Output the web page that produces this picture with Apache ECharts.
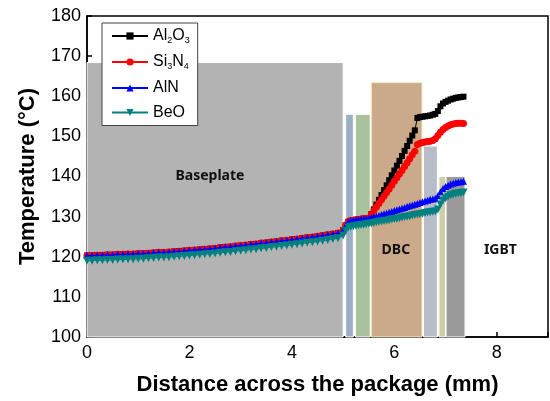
<!DOCTYPE html>
<html>
<head>
<meta charset="utf-8">
<script src="https://cdn.jsdelivr.net/npm/echarts@6/dist/echarts.min.js"></script>
<style>html,body{margin:0;padding:0;background:#fff}#c{width:550px;height:401px}</style>
</head>
<body>
<div id="c"></div>
<script>
// ---- data ----
var seriesNames = ['Al2O3', 'Si3N4', 'AlN', 'BeO'];
var xVals = [0,0.1,0.2,0.3,0.4,0.5,0.6,0.7,0.8,0.9,1.0,1.1,1.2,1.3,1.4,1.5,1.6,1.7,1.8,1.9,
  2.0,2.1,2.2,2.3,2.4,2.5,2.6,2.7,2.8,2.9,3.0,3.1,3.2,3.3,3.4,3.5,3.6,3.7,3.8,3.9,
  4.0,4.1,4.2,4.3,4.4,4.5,4.6,4.7,4.8,4.9,
  5.0,5.05,5.1,5.15,5.2,5.25,5.3,5.35,5.4,5.45,5.5,5.55,5.6,5.65,5.7,5.75,5.8,5.85,5.9,5.95,
  6.0,6.05,6.1,6.15,6.2,6.25,6.3,6.35,6.4,6.45,6.5,6.55,6.6,6.65,6.7,6.75,6.8,6.85,6.9,6.95,
  7.0,7.05,7.1,7.15,7.2,7.25,7.3,7.35];
var basePart = [120.3,120.3,120.4,120.4,120.5,120.5,120.6,120.6,120.7,120.7,120.8,120.8,120.9,121.0,121.1,121.1,121.2,121.3,121.4,121.5,
  121.6,121.7,121.8,121.9,122.0,122.1,122.3,122.4,122.5,122.7,122.8,122.9,123.1,123.2,123.4,123.5,123.7,123.8,124.0,124.1,
  124.3,124.4,124.6,124.8,124.9,125.1,125.3,125.5,125.7,125.9];
var al2o3 = basePart.concat([126.6,127.8,128.7,129.0,129.1,129.2,129.3,129.4,129.5,129.5,129.6,130.6,131.8,133.0,134.2,135.4,136.6,137.8,139.1,140.3,
  141.5,142.7,143.9,145.1,146.4,147.6,148.9,150.2,151.5,154.6,154.8,154.9,155.0,155.1,155.2,155.4,155.6,156.3,157.5,158.2,
  158.6,158.9,159.2,159.4,159.6,159.7,159.8,159.9]);
var si3n4 = basePart.concat([126.6,127.8,128.7,129.0,129.1,129.2,129.3,129.4,129.5,129.5,129.6,130.5,131.5,132.4,133.3,134.2,135.1,136.0,136.9,137.8,
  138.8,139.7,140.6,141.5,142.5,143.4,144.4,145.4,146.3,148.0,148.3,148.5,148.6,148.7,148.8,149.0,149.4,150.2,151.0,151.7,
  152.2,152.6,152.9,153.1,153.2,153.3,153.3,153.2]);
var aln = basePart.concat([126.6,127.8,128.7,129.0,129.1,129.2,129.3,129.4,129.5,129.5,129.6,129.8,130.0,130.1,130.3,130.5,130.7,130.9,131.1,131.3,
  131.5,131.7,131.9,132.1,132.3,132.5,132.7,132.9,133.1,133.3,133.5,133.7,133.9,134.1,134.3,134.4,134.6,135.2,136.2,137.0,
  137.5,137.8,138.1,138.3,138.5,138.6,138.7,138.8]);
var beo = [119.0,119.0,119.1,119.1,119.2,119.2,119.3,119.3,119.4,119.4,119.5,119.5,119.6,119.7,119.8,119.8,119.9,120.0,120.1,120.2,
  120.3,120.4,120.5,120.6,120.7,120.8,121.0,121.1,121.2,121.4,121.5,121.6,121.8,121.9,122.1,122.2,122.4,122.5,122.7,122.8,
  123.0,123.1,123.3,123.5,123.6,123.8,124.0,124.2,124.4,124.6,
  125.3,126.5,127.3,127.5,127.6,127.7,127.8,127.9,128.0,128.1,128.2,128.3,128.4,128.6,128.7,128.8,128.9,129.0,129.1,129.3,
  129.4,129.5,129.6,129.8,129.9,130.0,130.1,130.3,130.4,130.5,130.6,130.7,130.9,131.0,131.1,131.2,131.3,131.8,133.0,134.0,
  134.6,135.0,135.3,135.5,135.7,135.8,135.9,136.0];
// layer regions: [xStart, xEnd, top temperature]
var regionX0 = [0, 5.05, 5.24, 5.55, 6.57, 6.87, 7.01];
var regionX1 = [5.0, 5.2, 5.53, 6.54, 6.84, 7.0, 7.38];
var regionTop = [168.4, 155.5, 155.5, 163.4, 147.6, 140.0, 140.0];
var regionLabels = ['Baseplate', 'DBC', 'IGBT'];
var regionLabelX = [2.4, 6.03, 8.07];
var regionLabelY = [140.2, 121.8, 121.8];
var xTicks = [0, 2, 4, 6, 8];
var yTicks = [100, 110, 120, 130, 140, 150, 160, 170, 180];

// ---- styles ----
var regionColors = ['#b3b3b3', '#9cafc2', '#a9c29d', '#cba98b', '#b8bcc6', '#cfcca8', '#9a9a9a'];
var regionBorders = ['#ffffff', '#ffffff', '#ffffff', '#f6eec6', '#ffffff', '#ffffff', '#ffffff'];
var lineColors = ['#000000', '#ff0000', '#0000ff', '#008080'];
var symbols = ['rect', 'circle', 'triangle', 'triangle'];
var symbolRot = [0, 0, 0, 180];
var symbolSizes = [6, 7, 7, 8];
var legendLabels = ['{n|Al}{s|2}{n|O}{s|3}', '{n|Si}{s|3}{n|N}{s|4}', '{n|AlN}', '{n|BeO}'];
var ys = [al2o3, si3n4, aln, beo];

function pairs(xs, vs) { return xs.map(function (x, i) { return [x, vs[i]]; }); }

var areas = regionX0.map(function (x0, i) {
  return [{ xAxis: x0, yAxis: 100, itemStyle: { color: regionColors[i], borderColor: regionBorders[i], borderWidth: 1, opacity: 1 } },
          { xAxis: regionX1[i], yAxis: regionTop[i] }];
});
var labelPts = regionLabels.map(function (t, i) {
  return { name: t, coord: [regionLabelX[i], regionLabelY[i]], symbolSize: 0 };
});

var series = [{
  name: 'regions', type: 'line', data: [], silent: true, z: 1,
  markArea: { silent: true, data: areas },
  markPoint: {
    silent: true, symbol: 'circle', data: labelPts,
    label: { show: true, position: 'inside', formatter: '{b}', color: '#111',
      fontFamily: 'Noto Sans', fontWeight: 'bold', fontSize: 14 }
  }
}];
seriesNames.forEach(function (n, i) {
  series.push({
    name: n, type: 'line', data: pairs(xVals, ys[i]), z: 3 + i,
    symbol: symbols[i], symbolRotate: symbolRot[i], symbolSize: symbolSizes[i],
    showAllSymbol: true, animation: false,
    lineStyle: { color: lineColors[i], width: 1 },
    itemStyle: { color: lineColors[i] }
  });
});

var chart = echarts.init(document.getElementById('c'), null, { renderer: 'canvas' });
chart.setOption({
  animation: false,
  backgroundColor: '#fff',
  grid: { left: 87, right: 2, top: 16, bottom: 62, show: true, borderColor: '#000', borderWidth: 1.5, backgroundColor: 'transparent' },
  legend: {
    data: seriesNames, orient: 'vertical', left: 102, top: 23,
    backgroundColor: '#fff', borderColor: '#444', borderWidth: 1, borderRadius: 0,
    padding: [5, 8, 5, 9], itemWidth: 36, itemHeight: 9, itemGap: 8.5,
    formatter: function (name) { return legendLabels[seriesNames.indexOf(name)]; },
    textStyle: {
      rich: {
        n: { fontFamily: 'Liberation Sans', fontSize: 16, color: '#000', lineHeight: 19 },
        s: { fontFamily: 'Liberation Sans', fontSize: 9, color: '#000', lineHeight: 19, verticalAlign: 'bottom' }
      }
    }
  },
  xAxis: {
    type: 'value', min: 0, max: 9, interval: 2,
    name: 'Distance across the package (mm)', nameLocation: 'middle', nameGap: 37,
    nameTextStyle: { fontFamily: 'Liberation Sans', fontWeight: 'bold', fontSize: 22, color: '#000' },
    axisLine: { show: true, lineStyle: { color: '#000', width: 1.5 } },
    axisTick: { show: true, inside: true, length: 5, lineStyle: { color: '#000', width: 1.5 } },
    axisLabel: { fontFamily: 'Liberation Sans', fontSize: 18, color: '#000', margin: 7,
      customValues: xTicks },
    splitLine: { show: false }
  },
  yAxis: {
    type: 'value', min: 100, max: 180, interval: 10,
    name: 'Temperature (\u00B0C)', nameLocation: 'middle', nameGap: 48,
    nameTextStyle: { fontFamily: 'Liberation Sans', fontWeight: 'bold', fontSize: 22, color: '#000' },
    axisLine: { show: true, lineStyle: { color: '#000', width: 1.5 } },
    axisTick: { show: true, inside: true, length: 5, lineStyle: { color: '#000', width: 1.5 } },
    axisLabel: { fontFamily: 'Liberation Sans', fontSize: 18, color: '#000', margin: 6 },
    splitLine: { show: false }
  },
  series: series
});
</script>
</body>
</html>
